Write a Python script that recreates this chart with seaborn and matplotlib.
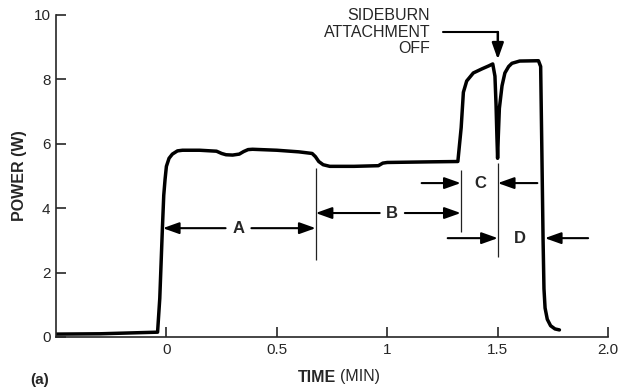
import seaborn as sns
import matplotlib
matplotlib.use("Agg")
import matplotlib.pyplot as plt
import pandas as pd

# DATOS
tiempoMin = [-0.5, -0.3, -0.04, -0.03, -0.018, -0.012, -0.006, 0.0, 0.012, 0.027, 0.05, 0.073,
             0.15, 0.227, 0.25, 0.27, 0.30, 0.33, 0.35, 0.37, 0.39, 0.5, 0.6, 0.66, 0.675,
             0.69, 0.71, 0.74, 0.85, 0.96, 0.98, 1.0, 1.1, 1.2, 1.32, 1.335, 1.345, 1.36,
             1.39, 1.43, 1.46, 1.478, 1.488, 1.493, 1.497, 1.50, 1.503, 1.508, 1.52, 1.533,
             1.55, 1.565, 1.60, 1.685, 1.695, 1.70, 1.706, 1.71, 1.715, 1.725, 1.74, 1.76, 1.78]
potenciaW = [0.09, 0.1, 0.15, 1.2, 3.4, 4.4, 4.9, 5.3, 5.55, 5.68, 5.78, 5.8,
             5.8, 5.77, 5.7, 5.66, 5.65, 5.68, 5.76, 5.82, 5.83, 5.8, 5.75, 5.7, 5.6,
             5.45, 5.35, 5.3, 5.3, 5.32, 5.4, 5.42, 5.43, 5.44, 5.45, 6.5, 7.6, 7.95,
             8.2, 8.33, 8.42, 8.48, 8.1, 7.2, 6.2, 5.55, 6.2, 7.1, 7.8, 8.2,
             8.4, 8.5, 8.57, 8.58, 8.4, 6.0, 3.0, 1.5, 0.9, 0.55, 0.35, 0.25, 0.22]

xTicks = [0, 0.5, 1, 1.5, 2.0]
xTickLabels = ["0", "0.5", "1", "1.5", "2.0"]
yTicks = [0, 2, 4, 6, 8, 10]

# limites de las fases A, B, C, D
limiteAB = 0.676
limiteBC = 1.333
limiteCD = 1.501

dfPotencia = pd.DataFrame({"tiempo": tiempoMin, "potencia": potenciaW})

sns.set_style("ticks")
plt.rcParams["font.family"] = ["Liberation Sans", "DejaVu Sans"]

fig = plt.figure(figsize=(6.28, 3.88), dpi=100)
ax = fig.add_axes([56 / 628, 51 / 388, 552 / 628, 322 / 388])

sns.lineplot(data=dfPotencia, x="tiempo", y="potencia", ax=ax, color="black", linewidth=2.5,
             solid_joinstyle="round", solid_capstyle="round")

ax.set_xlim(-0.5, 2.0)
ax.set_ylim(0, 10)
ax.set_xticks(xTicks)
ax.set_xticklabels(xTickLabels)
ax.set_yticks(yTicks)
ax.set_xlabel("")
ax.set_ylabel("")
ax.tick_params(direction="in", length=7, width=1.2, labelsize=11, pad=4)
sns.despine(ax=ax)
for lado in ["left", "bottom"]:
    ax.spines[lado].set_linewidth(1.2)

# lineas verticales de las fases
ax.vlines(limiteAB, 2.4, 5.25, color="#222222", linewidth=0.9)
ax.vlines(limiteBC, 3.26, 5.19, color="#222222", linewidth=0.9)
ax.vlines(limiteCD, 2.48, 5.4, color="#222222", linewidth=0.9)

estiloFlecha = dict(arrowstyle="-|>,head_length=0.7,head_width=0.25", color="black",
                    lw=1.5, mutation_scale=14, shrinkA=0, shrinkB=0)


def flecha(desde, hasta, y):
    ax.annotate("", xy=(hasta, y), xytext=(desde, y), arrowprops=estiloFlecha)


# A
flecha(0.268, -0.016, 3.38)
flecha(0.385, limiteAB, 3.38)
ax.text(0.326, 3.38, "A", ha="center", va="center", fontsize=12, fontweight="bold")
# B
flecha(0.966, limiteAB, 3.85)
flecha(1.08, limiteBC, 3.85)
ax.text(1.02, 3.85, "B", ha="center", va="center", fontsize=12, fontweight="bold")
# C
flecha(1.156, limiteBC, 4.78)
flecha(1.68, limiteCD, 4.78)
ax.text(1.42, 4.78, "C", ha="center", va="center", fontsize=12, fontweight="bold")
# D
flecha(1.274, limiteCD, 3.07)
flecha(1.91, 1.714, 3.07)
ax.text(1.60, 3.07, "D", ha="center", va="center", fontsize=12, fontweight="bold")

# anotacion sideburn
ax.plot([1.252, limiteCD], [9.47, 9.47], color="black", linewidth=1.5, clip_on=False)
ax.annotate("", xy=(limiteCD, 8.62), xytext=(limiteCD, 9.47),
            arrowprops=dict(estiloFlecha, lw=1.8), annotation_clip=False)
ax.text(1.195, 9.47, "SIDEBURN\nATTACHMENT\nOFF", ha="right", va="center",
        fontsize=11.5, multialignment="right", linespacing=1.15)

# etiquetas de ejes
fig.text(20 / 628, 1 - 176 / 388, "POWER (W)", rotation=90, ha="center", va="center",
         fontsize=11.5, fontweight="bold")
fig.text(336 / 628, 1 - 377 / 388, "TIME", ha="right", va="center", fontsize=11.5, fontweight="bold")
fig.text(340 / 628, 1 - 377 / 388, "(MIN)", ha="left", va="center", fontsize=11.5)
fig.text(30 / 628, 1 - 380 / 388, "(a)", ha="left", va="center", fontsize=11, fontweight="bold")

fig.savefig("out.png", dpi=100)
